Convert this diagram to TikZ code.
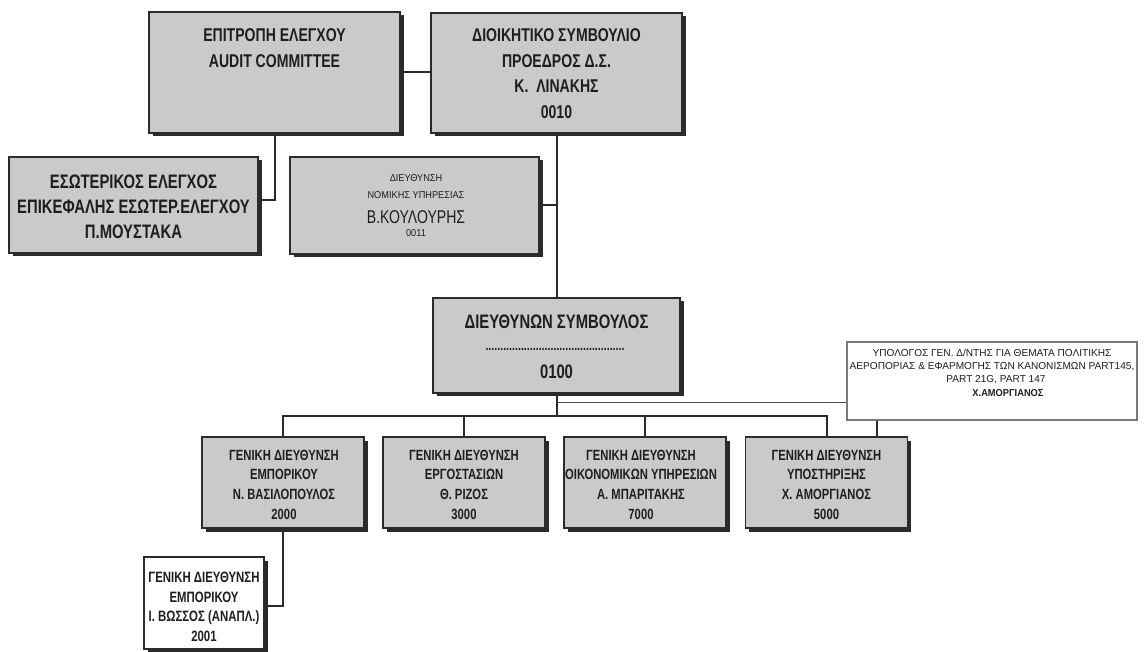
\documentclass[tikz,border=0pt]{standalone}
\usepackage{fontspec}
\setmainfont{Liberation Sans}
\newfontfamily\narrow{Liberation Sans}[FakeStretch=0.76]
\newfontfamily\narrowS{Liberation Sans}[FakeStretch=0.92]
\usetikzlibrary{shadows}
\definecolor{boxfill}{HTML}{CACACA}
\definecolor{edge}{HTML}{2B2B2B}
\definecolor{ink}{HTML}{1E1E1E}
\definecolor{notec}{HTML}{7A7A7A}
\begin{document}
\begin{tikzpicture}[x=1pt,y=-1pt,
  gbox/.style={draw=edge, line width=1.3pt, fill=boxfill, inner sep=0pt,
    drop shadow={shadow xshift=3.5pt, shadow yshift=-3.5pt, fill=edge, opacity=1}},
  wbox/.style={gbox, fill=white},
  notebox/.style={draw=notec, line width=1.6pt, fill=white, inner sep=0pt},
  conn/.style={draw=edge, line width=2pt},
  thinconn/.style={draw=edge!85, line width=1.2pt},
  bigtxt/.style={text=ink, align=center, inner sep=0pt, font=\narrow\bfseries\fontsize{18.5}{25.7}\selectfont},
  iatxt/.style={text=ink, align=center, inner sep=0pt, font=\narrow\bfseries\fontsize{19.5}{25}\selectfont},
  ceotxt/.style={text=ink, inner sep=0pt, font=\narrow\bfseries\fontsize{19.5}{20}\selectfont},
  subtxt/.style={text=ink, align=center, inner sep=0pt, font=\narrow\bfseries\fontsize{14.8}{19.7}\selectfont},
  smalltxt/.style={text=ink, inner sep=0pt, font=\narrowS\fontsize{10}{12}\selectfont},
  notetxt/.style={text=ink, inner sep=0pt, font=\fontsize{10.1}{12}\selectfont},
  legalbig/.style={text=ink, inner sep=0pt, font=\narrow\fontsize{18.5}{20}\selectfont}
]
\useasboundingbox (0,0) rectangle (1144,652);

% boxes
\node[gbox, minimum width=251pt, minimum height=121pt] (audit) at (274.5,72.5) {};
\node[gbox, minimum width=251pt, minimum height=120pt] (board) at (556.5,73) {};
\node[gbox, minimum width=249pt, minimum height=96pt] (intaudit) at (133.5,205) {};
\node[gbox, minimum width=249pt, minimum height=97pt] (legal) at (414.5,205.5) {};
\node[gbox, minimum width=247pt, minimum height=95pt] (ceo) at (556.5,345.5) {};
\node[notebox, minimum width=290pt, minimum height=78pt] (note) at (992,381) {};
\node[gbox, minimum width=162pt, minimum height=91pt] (b1) at (283,482.5) {};
\node[gbox, minimum width=162pt, minimum height=91pt] (b2) at (464,482.5) {};
\node[gbox, minimum width=162pt, minimum height=91pt] (b3) at (645,482.5) {};
\node[gbox, minimum width=162pt, minimum height=91pt] (b4) at (826.5,482.5) {};
\node[wbox, minimum width=120pt, minimum height=92pt] (b2001) at (204,603) {};

% texts
\node[bigtxt] (tAudit) at (274.5,48) {ΕΠΙΤΡΟΠΗ ΕΛΕΓΧΟΥ\\AUDIT COMMITTEE};
\node[bigtxt] (tBoard) at (556.5,73.5) {ΔΙΟΙΚΗΤΙΚΟ ΣΥΜΒΟΥΛΙΟ\\ΠΡΟΕΔΡΟΣ Δ.Σ.\\Κ.\ \ ΛΙΝΑΚΗΣ\\0010};
\node[iatxt] (tIA) at (133.5,207) {ΕΣΩΤΕΡΙΚΟΣ ΕΛΕΓΧΟΣ\\ΕΠΙΚΕΦΑΛΗΣ ΕΣΩΤΕΡ.ΕΛΕΓΧΟΥ\\Π.ΜΟΥΣΤΑΚΑ};
\node[smalltxt] (tL1) at (416,178) {ΔΙΕΥΘΥΝΣΗ};
\node[smalltxt] (tL2) at (416,195) {ΝΟΜΙΚΗΣ ΥΠΗΡΕΣΙΑΣ};
\node[legalbig] (tL3) at (416,217) {Β.ΚΟΥΛΟΥΡΗΣ};
\node[smalltxt] (tL4) at (416,233) {0011};
\node[ceotxt] (tC1) at (556.5,322) {ΔΙΕΥΘΥΝΩΝ ΣΥΜΒΟΥΛΟΣ};
\node[text=ink, inner sep=0pt, font=\narrow\bfseries\fontsize{14}{14}\selectfont] (tC2) at (555,349) {\foreach \i in {1,...,47}{.}};
\node[ceotxt] (tC3) at (556.5,372) {0100};
\node[notetxt] (tN1) at (992,353) {ΥΠΟΛΟΓΟΣ ΓΕΝ. Δ/ΝΤΗΣ ΓΙΑ ΘΕΜΑΤΑ ΠΟΛΙΤΙΚΗΣ};
\node[notetxt] (tN2) at (992,367) {ΑΕΡΟΠΟΡΙΑΣ \& ΕΦΑΡΜΟΓΗΣ ΤΩΝ ΚΑΝΟΝΙΣΜΩΝ PART145,};
\node[notetxt] (tN3) at (996,380) {PART 21G, PART 147};
\node[notetxt, font=\narrowS\bfseries\fontsize{10.1}{12}\selectfont] (tN4) at (1008,393) {Χ.ΑΜΟΡΓΙΑΝΟΣ};
\node[subtxt] (tB1) at (284,484.7) {ΓΕΝΙΚΗ ΔΙΕΥΘΥΝΣΗ\\ΕΜΠΟΡΙΚΟΥ\\Ν. ΒΑΣΙΛΟΠΟΥΛΟΣ\\2000};
\node[subtxt] (tB2) at (464,484.7) {ΓΕΝΙΚΗ ΔΙΕΥΘΥΝΣΗ\\ΕΡΓΟΣΤΑΣΙΩΝ\\Θ. ΡΙΖΟΣ\\3000};
\node[subtxt] (tB3) at (641,484.7) {ΓΕΝΙΚΗ ΔΙΕΥΘΥΝΣΗ\\ΟΙΚΟΝΟΜΙΚΩΝ ΥΠΗΡΕΣΙΩΝ\\Α. ΜΠΑΡΙΤΑΚΗΣ\\7000};
\node[subtxt] (tB4) at (826.5,484.7) {ΓΕΝΙΚΗ ΔΙΕΥΘΥΝΣΗ\\ΥΠΟΣΤΗΡΙΞΗΣ\\Χ. ΑΜΟΡΓΙΑΝΟΣ\\5000};
\node[subtxt, font=\narrow\bfseries\fontsize{15}{19.7}\selectfont] (tB5) at (204,606.7) {ΓΕΝΙΚΗ ΔΙΕΥΘΥΝΣΗ\\ΕΜΠΟΡΙΚΟΥ\\Ι. ΒΩΣΣΟΣ (ΑΝΑΠΛ.)\\2001};

% connectors
\coordinate (bar) at (556.5,416);
\draw[conn] (audit.east) -- (audit.east -| board.west);
\draw[conn] (audit.south) |- ([yshift=5pt]intaudit.east);
\draw[conn] (board.south) -- (ceo.north);
\draw[conn] (legal.east) -- (legal.east -| board.south);
\draw[conn] (ceo.south) -- (bar);
\draw[conn] (b1.north) |- (bar) -| (b4.north);
\draw[conn] (b2.north) -- (b2.north |- bar);
\draw[conn] (b3.north) -- (b3.north |- bar);
\draw[thinconn] ([yshift=-9pt]ceo.south) -- ([yshift=-9pt]ceo.south -| note.west);
\draw[conn] ([xshift=-115pt]note.south) -- ([xshift=-115pt]note.south |- b4.north);
\draw[conn] (b1.south) |- ([yshift=-3pt]b2001.east);
\end{tikzpicture}
\end{document}
